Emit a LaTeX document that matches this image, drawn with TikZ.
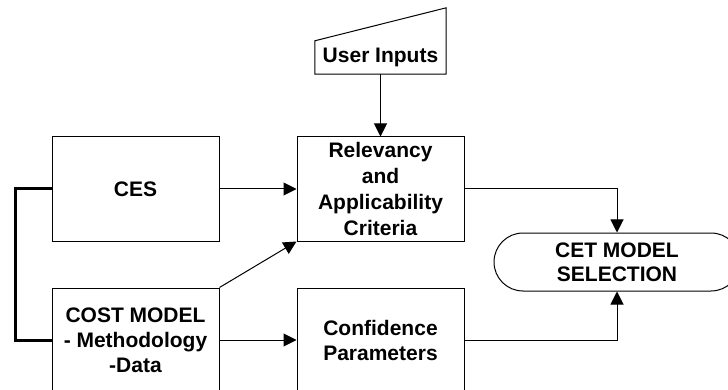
\documentclass[tikz,border=0pt]{standalone}
\usepackage{fontspec}
\setmainfont{Liberation Sans}
\usetikzlibrary{arrows.meta}
\begin{document}
\begin{tikzpicture}[x=1pt,y=-1pt,
  box/.style={draw=black,line width=1pt,minimum width=167pt,minimum height=104pt,inner sep=0pt,align=center,
    font=\bfseries\fontsize{21}{25}\selectfont},
  term/.style={draw=black,line width=1pt,rounded corners=29pt,minimum width=246pt,minimum height=58pt,inner sep=0pt,align=center,
    font=\bfseries\fontsize{21}{24}\selectfont},
  lbl/.style={inner sep=0pt,minimum width=131pt,minimum height=33pt,font=\bfseries\fontsize{21}{25}\selectfont},
  arr/.style={line width=1pt,-{Triangle[length=13pt,width=13pt]}},
  link/.style={line width=3pt}]
\useasboundingbox (0,0) rectangle (728,390);
\begin{scope}
\clip (0,0) rectangle (728,390);
\node[lbl] (ui) at (380.5,57.5) {User Inputs};
\draw[line width=1pt,line join=miter] (ui.south west) -- (ui.south east) -- ([yshift=33pt]ui.north east) -- (ui.north west) -- cycle;
\node[box] (ces) at (135.5,189) {CES};
\node[box,font=\bfseries\fontsize{21}{26}\selectfont] (rel) at (380.5,189) {Relevancy\\and\\Applicability\\Criteria};
\node[box] (cost) at (135.5,340) {COST MODEL\\- Methodology\\-Data};
\node[box] (conf) at (380.5,340) {Confidence\\Parameters};
\node[term] (cet) at (617,262) {CET MODEL\\SELECTION};
\draw[arr] (ui.south) -- (rel.north);
\draw[arr] (ces.east) -- (rel.west);
\draw[arr] (cost.north east) -- (rel.south west);
\draw[arr] (cost.east) -- (conf.west);
\draw[arr] (rel.east) -| (cet.north);
\draw[arr] (conf.east) -| (cet.south);
\draw[link] (ces.west) -- ++(-36,0) |- (cost.west);
\end{scope}
\end{tikzpicture}
\end{document}
